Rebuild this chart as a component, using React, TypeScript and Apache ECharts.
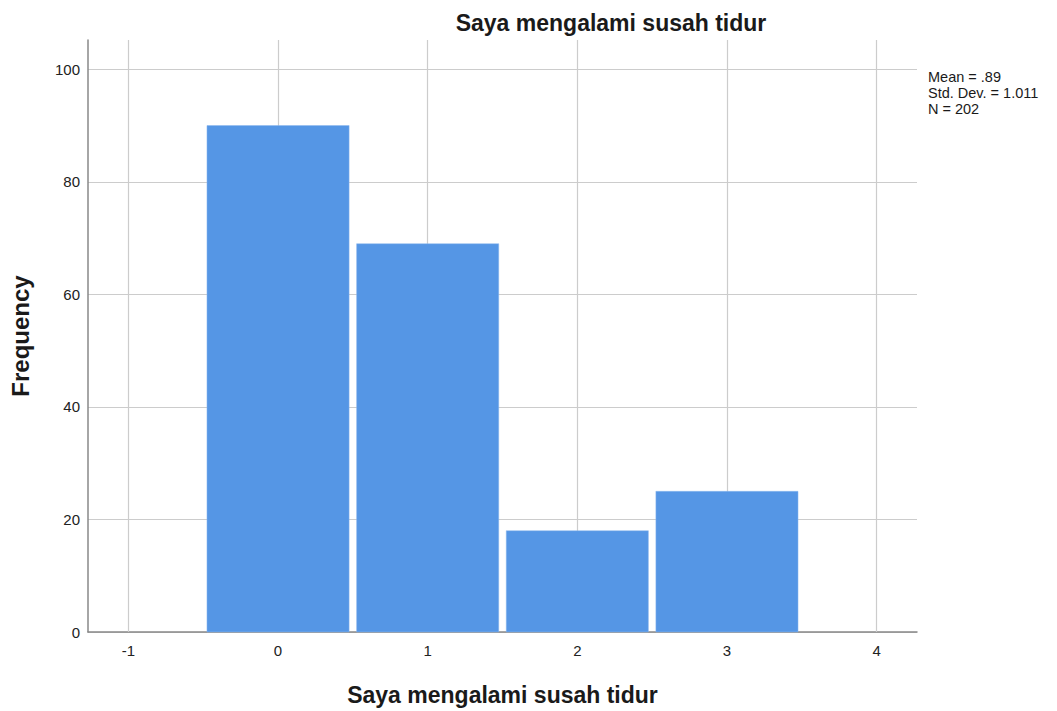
import React, { useEffect, useRef } from "react";
import * as echarts from "echarts";

const categories = [0, 1, 2, 3];
const frequencies = [90, 69, 18, 25];
const xTicks = [-1, 0, 1, 2, 3, 4];
const statsLines = ["Mean = .89", "Std. Dev. = 1.011", "N = 202"];
const chartTitle = "Saya mengalami susah tidur";
const xName = "Saya mengalami susah tidur";
const yName = "Frequency";

export default function App() {
  const ref = useRef<HTMLDivElement>(null);
  useEffect(() => {
    document.body.style.margin = "0";
    const chart = echarts.init(ref.current!, null, { renderer: "svg" });
    const font = "Liberation Sans, Arial, sans-serif";
    chart.setOption({
      animation: false,
      backgroundColor: "#ffffff",
      title: {
        text: chartTitle,
        left: 606,
        top: 6,
        textAlign: "center",
        textStyle: { fontFamily: font, fontSize: 23, fontWeight: "bold", color: "#1a1a1a" },
      },
      grid: { left: 87, right: 140, top: 40, bottom: 79 },
      xAxis: {
        type: "value",
        min: -1.27,
        max: 4.27,
        name: xName,
        nameLocation: "middle",
        nameGap: 51,
        nameTextStyle: { fontFamily: font, fontSize: 23, fontWeight: "bold", color: "#1a1a1a" },
        axisLine: { show: true, onZero: false, lineStyle: { color: "#888888", width: 1.5 } },
        axisTick: { show: false, customValues: xTicks },
        axisLabel: {
          customValues: xTicks,
          fontFamily: font,
          fontSize: 15,
          color: "#222",
          margin: 11,
        },
        splitLine: { show: false },
      },
      yAxis: {
        type: "value",
        min: 0,
        max: 105.2,
        interval: 20,
        name: yName,
        nameLocation: "middle",
        nameGap: 56,
        nameTextStyle: { fontFamily: font, fontSize: 24, fontWeight: "bold", color: "#1a1a1a" },
        axisLine: { show: true, onZero: false, lineStyle: { color: "#888888", width: 1.5 } },
        axisTick: { show: false },
        axisLabel: { fontFamily: font, fontSize: 15, color: "#222", margin: 8, showMaxLabel: false },
        splitLine: { show: true, showMaxLine: false, lineStyle: { color: "#cccccc", width: 1.2 } },
      },
      series: [
        {
          type: "line",
          data: [],
          silent: true,
          z: 1,
          markLine: {
            silent: true,
            z: 1,
            symbol: "none",
            label: { show: false },
            lineStyle: { color: "#cccccc", width: 1.2, type: "solid" },
            data: xTicks.map((v) => ({ xAxis: v })),
          },
        },
        {
          type: "custom",
          z: 3,
          data: categories.map((c, i) => [c, frequencies[i]]),
          encode: { x: 0, y: 1 },
          renderItem: (params: any, api: any) => {
            const x = api.value(0);
            const v = api.value(1);
            const p1 = api.coord([x - 0.5, v]);
            const p2 = api.coord([x + 0.5, 0]);
            const inset = 3.75;
            return {
              type: "rect",
              shape: {
                x: p1[0] + inset,
                y: p1[1],
                width: p2[0] - p1[0] - 2 * inset,
                height: p2[1] - p1[1],
              },
              style: { fill: "#5596e5", stroke: "#8fb9ef", lineWidth: 0.5 },
            };
          },
        },
      ],
      graphic: [
        {
          type: "text",
          left: 928,
          top: 69,
          style: {
            text: statsLines.join("\n"),
            fontFamily: font,
            fontSize: 14.5,
            lineHeight: 16,
            fill: "#1a1a1a",
          },
        },
      ],
    });
    return () => chart.dispose();
  }, []);
  return <div ref={ref} style={{ width: 1057, height: 711 }} />;
}
